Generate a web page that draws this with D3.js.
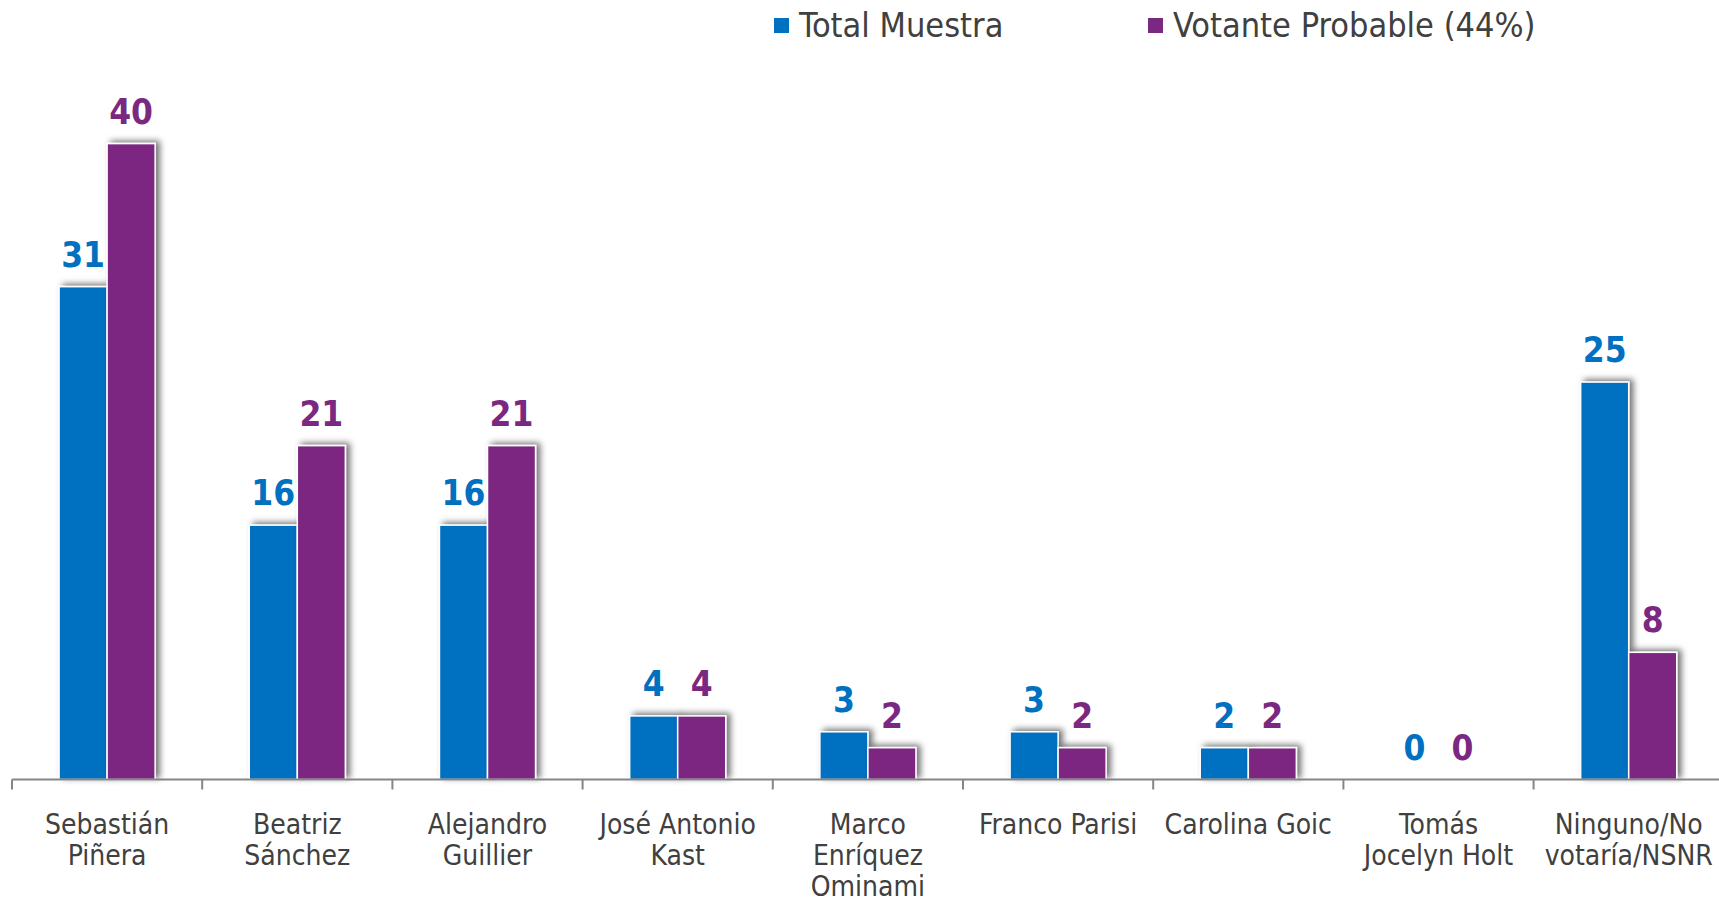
<!DOCTYPE html>
<html>
<head>
<meta charset="utf-8">
<script src="https://cdn.jsdelivr.net/npm/d3@7"></script>
<style>
  body { margin: 0; background: #fff; }
  svg { display: block; font-family: "DejaVu Sans Condensed", "DejaVu Sans", sans-serif; }
</style>
</head>
<body>
<svg id="chart" width="1719" height="903"></svg>
<script>
// categories (line breaks as in the original labels)
const categories = [
  "Sebastián\nPiñera",
  "Beatriz\nSánchez",
  "Alejandro\nGuillier",
  "José Antonio\nKast",
  "Marco\nEnríquez\nOminami",
  "Franco Parisi",
  "Carolina Goic",
  "Tomás\nJocelyn Holt",
  "Ninguno/No\nvotaría/NSNR"
];
const seriesNames = ["Total Muestra", "Votante Probable (44%)"];
const totalMuestra = [31, 16, 16, 4, 3, 3, 2, 0, 25];
const votanteProbable = [40, 21, 21, 4, 2, 2, 2, 0, 8];
const colors = ["#0070C0", "#7B2882"];

let svg = d3.select("#chart");
let baseY = 779.5;
let step = 190.2;
let left = 12;

// shadow filter
let defs = svg.append("defs");
let f = defs.append("filter").attr("id", "shadow")
    .attr("x", "-30%").attr("y", "-30%").attr("width", "160%").attr("height", "160%");
f.append("feDropShadow")
    .attr("dx", 4).attr("dy", -2)
    .attr("stdDeviation", 3)
    .attr("flood-color", "#000")
    .attr("flood-opacity", 0.55);

let x0 = d3.scaleBand()
    .domain(d3.range(categories.length))
    .range([left, left + step * categories.length])
    .paddingInner(0).paddingOuter(0);
let x1 = d3.scaleBand()
    .domain([0, 1])
    .range([0, x0.bandwidth()])
    .paddingInner(0).paddingOuter(0.98);
let y = d3.scaleLinear().domain([0, 40]).range([baseY, 143.6]);

let data = categories.map((c, i) => ({
    i: i,
    values: [totalMuestra[i], votanteProbable[i]]
}));

let groups = svg.append("g").selectAll("g")
    .data(data)
    .join("g")
    .attr("transform", d => "translate(" + x0(d.i) + ",0)");

groups.selectAll("rect")
    .data(d => d.values.map((v, s) => ({v: v, s: s})).filter(e => e.v > 0))
    .join("rect")
    .attr("x", d => x1(d.s))
    .attr("y", d => y(d.v))
    .attr("width", x1.bandwidth())
    .attr("height", d => baseY - y(d.v))
    .attr("fill", d => colors[d.s])
    .attr("stroke", "#fff")
    .attr("stroke-width", 1.5)
    .attr("filter", "url(#shadow)");

groups.selectAll("text.val")
    .data(d => d.values.map((v, s) => ({v: v, s: s})))
    .join("text")
    .attr("class", "val")
    .attr("x", d => x1(d.s) + x1.bandwidth() / 2)
    .attr("y", d => y(d.v) - 20)
    .attr("text-anchor", "middle")
    .attr("fill", d => colors[d.s])
    .style("font-size", "35px")
    .style("font-weight", "bold")
    .text(d => d.v);

// axis
let axis = svg.append("g").attr("transform", "translate(0," + baseY + ")");
axis.append("line")
    .attr("x1", left).attr("x2", 1719)
    .attr("stroke", "#868686").attr("stroke-width", 2);
axis.selectAll("line.tick")
    .data(d3.range(categories.length))
    .join("line")
    .attr("class", "tick")
    .attr("x1", d => x0(d)).attr("x2", d => x0(d))
    .attr("y1", 0).attr("y2", 10)
    .attr("stroke", "#868686").attr("stroke-width", 2);

axis.selectAll("text.cat")
    .data(categories)
    .join("text")
    .attr("class", "cat")
    .attr("text-anchor", "middle")
    .attr("fill", "#404040")
    .style("font-size", "28px")
    .each(function (d, i) {
        let t = d3.select(this);
        d.split("\n").forEach((line, k) => {
            t.append("tspan")
                .attr("x", x0(i) + x0.bandwidth() / 2)
                .attr("y", 54 + k * 31)
                .text(line);
        });
    });

// legend
let legendX = [774, 1148];
let legend = svg.append("g").selectAll("g")
    .data(seriesNames)
    .join("g")
    .attr("transform", (d, i) => "translate(" + legendX[i] + ",18)");
legend.append("rect")
    .attr("width", 15).attr("height", 15)
    .attr("fill", (d, i) => colors[i]);
legend.append("text")
    .attr("x", 25).attr("y", 19)
    .attr("fill", "#404040")
    .style("font-size", "34px")
    .text(d => d);
</script>
</body>
</html>
